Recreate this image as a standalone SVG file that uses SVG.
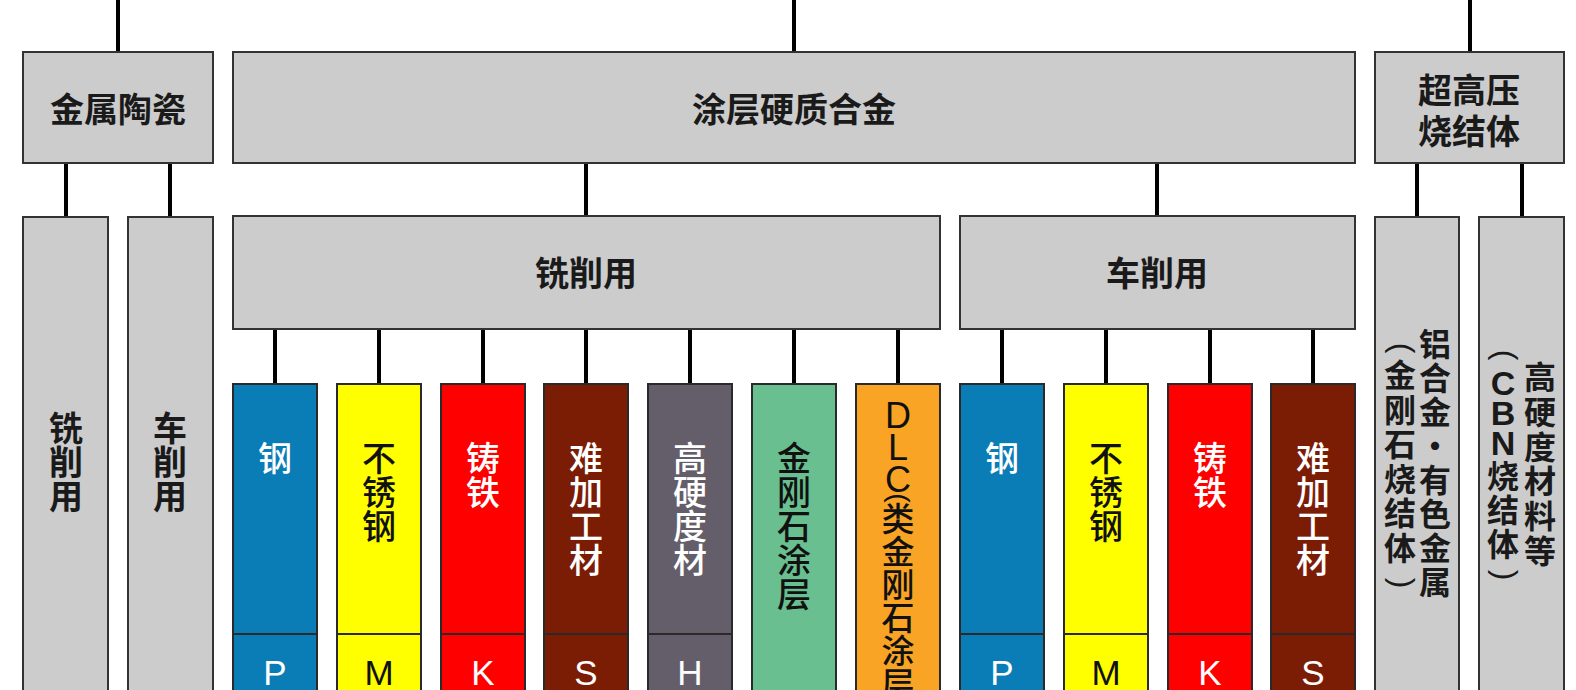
<svg xmlns="http://www.w3.org/2000/svg" width="1576" height="690" viewBox="0 0 1576 690">
<style>
.bg{fill:#ffffff}
.box{fill:#cccccc;stroke:#333333;stroke-width:2}
.col{stroke:#2a2a2a;stroke-width:2}
.split{stroke:#2a2a2a;stroke-width:2}
.conn line{stroke:#000000;stroke-width:4}
.cn{font-family:"Noto Sans CJK SC","Noto Sans CJK JP",sans-serif;text-anchor:middle}
.hd{font-size:34px;font-weight:bold;fill:#1a1a1a}
.sm{font-size:32px;font-weight:bold;fill:#1a1a1a}
.vt{font-size:34px;font-weight:500}
.lat{font-family:"Liberation Sans","Noto Sans CJK SC",sans-serif;text-anchor:middle}
.let{font-size:35px}
.par{font-family:"Liberation Sans",sans-serif;text-anchor:middle;font-size:32px;fill:#1a1a1a}
.w{fill:#ffffff}
.k{fill:#111111}
.blue{fill:#0a7cb6}
.yellow{fill:#ffff00}
.red{fill:#ff0000}
.brown{fill:#7b1d05}
.purple{fill:#635e69}
.green{fill:#69bf8f}
.orange{fill:#f9a424}
</style>
<rect class="bg" x="0" y="0" width="1576" height="690"/>

<g id="connectors" class="conn">
  <line x1="118" y1="0" x2="118" y2="53"/>
  <line x1="794" y1="0" x2="794" y2="53"/>
  <line x1="1470" y1="0" x2="1470" y2="53"/>
  <line x1="66" y1="163" x2="66" y2="218"/>
  <line x1="170" y1="163" x2="170" y2="218"/>
  <line x1="586" y1="163" x2="586" y2="217"/>
  <line x1="1157" y1="163" x2="1157" y2="217"/>
  <line x1="1417" y1="163" x2="1417" y2="218"/>
  <line x1="1522" y1="163" x2="1522" y2="218"/>
  <line x1="275" y1="329" x2="275" y2="385"/>
  <line x1="379" y1="329" x2="379" y2="385"/>
  <line x1="483" y1="329" x2="483" y2="385"/>
  <line x1="586" y1="329" x2="586" y2="385"/>
  <line x1="690" y1="329" x2="690" y2="385"/>
  <line x1="794" y1="329" x2="794" y2="385"/>
  <line x1="898" y1="329" x2="898" y2="385"/>
  <line x1="1002" y1="329" x2="1002" y2="385"/>
  <line x1="1106" y1="329" x2="1106" y2="385"/>
  <line x1="1210" y1="329" x2="1210" y2="385"/>
  <line x1="1313" y1="329" x2="1313" y2="385"/>
</g>

<g id="cermet">
  <rect class="box" x="23" y="52" width="190" height="111"/>
  <text class="cn hd" x="118" y="122">金属陶瓷</text>
</g>
<g id="coated-carbide">
  <rect class="box" x="233" y="52" width="1122" height="111"/>
  <text class="cn hd" x="794" y="122">涂层硬质合金</text>
</g>
<g id="uhp-sintered">
  <rect class="box" x="1375" y="52" width="189" height="111"/>
  <text class="cn hd" x="1469" y="103">超高压</text>
  <text class="cn hd" x="1469" y="144">烧结体</text>
</g>

<g id="cermet-milling">
  <rect class="box" x="23" y="217" width="85" height="500"/>
  <text class="cn hd"><tspan x="66" y="441">铣</tspan><tspan x="66" y="475">削</tspan><tspan x="66" y="509">用</tspan></text>
</g>
<g id="cermet-turning">
  <rect class="box" x="128" y="217" width="85" height="500"/>
  <text class="cn hd"><tspan x="170" y="441">车</tspan><tspan x="170" y="475">削</tspan><tspan x="170" y="509">用</tspan></text>
</g>
<g id="milling">
  <rect class="box" x="233" y="216" width="707" height="113"/>
  <text class="cn hd" x="586" y="286">铣削用</text>
</g>
<g id="turning">
  <rect class="box" x="960" y="216" width="395" height="113"/>
  <text class="cn hd" x="1157" y="286">车削用</text>
</g>

<g id="mill-steel">
  <rect class="col blue" x="233" y="384" width="84" height="320"/>
  <line class="split" x1="233" y1="634" x2="317" y2="634"/>
  <text class="cn vt w" x="275" y="471">钢</text>
  <text class="lat let w" x="275" y="685">P</text>
</g>
<g id="mill-stainless">
  <rect class="col yellow" x="337" y="384" width="84" height="320"/>
  <line class="split" x1="337" y1="634" x2="421" y2="634"/>
  <text class="cn vt k"><tspan x="379" y="471">不</tspan><tspan x="379" y="505">锈</tspan><tspan x="379" y="539">钢</tspan></text>
  <text class="lat let k" x="379" y="685">M</text>
</g>
<g id="mill-castiron">
  <rect class="col red" x="441" y="384" width="84" height="320"/>
  <line class="split" x1="441" y1="634" x2="525" y2="634"/>
  <text class="cn vt w"><tspan x="483" y="471">铸</tspan><tspan x="483" y="505">铁</tspan></text>
  <text class="lat let w" x="483" y="685">K</text>
</g>
<g id="mill-difficult">
  <rect class="col brown" x="544" y="384" width="84" height="320"/>
  <line class="split" x1="544" y1="634" x2="628" y2="634"/>
  <text class="cn vt w"><tspan x="586" y="471">难</tspan><tspan x="586" y="505">加</tspan><tspan x="586" y="539">工</tspan><tspan x="586" y="573">材</tspan></text>
  <text class="lat let w" x="586" y="685">S</text>
</g>
<g id="mill-hard">
  <rect class="col purple" x="648" y="384" width="84" height="320"/>
  <line class="split" x1="648" y1="634" x2="732" y2="634"/>
  <text class="cn vt w"><tspan x="690" y="471">高</tspan><tspan x="690" y="505">硬</tspan><tspan x="690" y="539">度</tspan><tspan x="690" y="573">材</tspan></text>
  <text class="lat let w" x="690" y="685">H</text>
</g>
<g id="mill-diamond">
  <rect class="col green" x="752" y="384" width="84" height="320"/>
  <text class="cn vt k"><tspan x="794" y="471">金</tspan><tspan x="794" y="505">刚</tspan><tspan x="794" y="539">石</tspan><tspan x="794" y="573">涂</tspan><tspan x="794" y="607">层</tspan></text>
</g>
<g id="mill-dlc">
  <rect class="col orange" x="856" y="384" width="84" height="320"/>
  <text class="lat k" style="font-size:36px"><tspan x="898" y="428">D</tspan><tspan x="898" y="460">L</tspan><tspan x="898" y="492">C</tspan></text>
  <text class="lat k" x="897" y="505" style="font-size:28px" transform="rotate(90 897 498)">(</text>
  <text class="cn vt k" style="font-size:33px"><tspan x="898" y="531">类</tspan><tspan x="898" y="564">金</tspan><tspan x="898" y="597">刚</tspan><tspan x="898" y="630">石</tspan><tspan x="898" y="663">涂</tspan><tspan x="898" y="696">层</tspan></text>
</g>

<g id="turn-steel">
  <rect class="col blue" x="960" y="384" width="84" height="320"/>
  <line class="split" x1="960" y1="634" x2="1044" y2="634"/>
  <text class="cn vt w" x="1002" y="471">钢</text>
  <text class="lat let w" x="1002" y="685">P</text>
</g>
<g id="turn-stainless">
  <rect class="col yellow" x="1064" y="384" width="84" height="320"/>
  <line class="split" x1="1064" y1="634" x2="1148" y2="634"/>
  <text class="cn vt k"><tspan x="1106" y="471">不</tspan><tspan x="1106" y="505">锈</tspan><tspan x="1106" y="539">钢</tspan></text>
  <text class="lat let k" x="1106" y="685">M</text>
</g>
<g id="turn-castiron">
  <rect class="col red" x="1168" y="384" width="84" height="320"/>
  <line class="split" x1="1168" y1="634" x2="1252" y2="634"/>
  <text class="cn vt w"><tspan x="1210" y="471">铸</tspan><tspan x="1210" y="505">铁</tspan></text>
  <text class="lat let w" x="1210" y="685">K</text>
</g>
<g id="turn-difficult">
  <rect class="col brown" x="1271" y="384" width="84" height="320"/>
  <line class="split" x1="1271" y1="634" x2="1355" y2="634"/>
  <text class="cn vt w"><tspan x="1313" y="471">难</tspan><tspan x="1313" y="505">加</tspan><tspan x="1313" y="539">工</tspan><tspan x="1313" y="573">材</tspan></text>
  <text class="lat let w" x="1313" y="685">S</text>
</g>

<g id="pcd">
  <rect class="box" x="1375" y="217" width="84" height="500"/>
  <text class="cn sm"><tspan x="1435" y="356">铝</tspan><tspan x="1435" y="390">合</tspan><tspan x="1435" y="424">金</tspan><tspan x="1435" y="458">・</tspan><tspan x="1435" y="492">有</tspan><tspan x="1435" y="526">色</tspan><tspan x="1435" y="560">金</tspan><tspan x="1435" y="594">属</tspan></text>
  <text class="par" x="1400" y="356" transform="rotate(90 1400 348)">(</text>
  <text class="cn sm"><tspan x="1400" y="387">金</tspan><tspan x="1400" y="421.5">刚</tspan><tspan x="1400" y="456">石</tspan><tspan x="1400" y="490.5">烧</tspan><tspan x="1400" y="525">结</tspan><tspan x="1400" y="559.5">体</tspan></text>
  <text class="par" x="1400" y="591" transform="rotate(90 1400 583)">)</text>
</g>
<g id="cbn">
  <rect class="box" x="1479" y="217" width="85" height="500"/>
  <text class="cn sm"><tspan x="1540" y="389">高</tspan><tspan x="1540" y="424">硬</tspan><tspan x="1540" y="459">度</tspan><tspan x="1540" y="493">材</tspan><tspan x="1540" y="528">料</tspan><tspan x="1540" y="563">等</tspan></text>
  <text class="par" x="1503" y="363" transform="rotate(90 1503 355)">(</text>
  <text class="lat" style="font-size:34px;font-weight:bold;fill:#1a1a1a"><tspan x="1503" y="395">C</tspan><tspan x="1503" y="425">B</tspan><tspan x="1503" y="455">N</tspan></text>
  <text class="cn sm"><tspan x="1503" y="488">烧</tspan><tspan x="1503" y="522">结</tspan><tspan x="1503" y="556">体</tspan></text>
  <text class="par" x="1503" y="583" transform="rotate(90 1503 575)">)</text>
</g>
</svg>
